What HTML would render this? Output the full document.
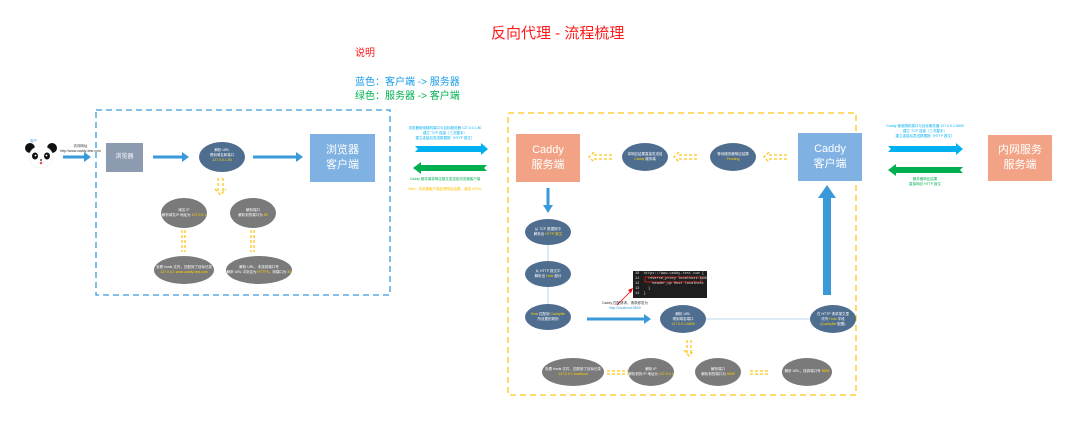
<!DOCTYPE html>
<html><head><meta charset="utf-8"><style>
body{margin:0;width:1080px;height:430px;background:#fff;position:relative;overflow:hidden;font-family:"Liberation Sans","Noto Sans CJK SC",sans-serif}
.t{position:absolute;white-space:nowrap}
.c{position:absolute;text-align:center;font-size:3.5px;line-height:5px;color:#fff;white-space:nowrap}
.box{position:absolute;color:#fff;text-align:center;display:flex;align-items:center;justify-content:center;font-size:11px;line-height:15px}
.y{color:#ffd200}
.code{position:absolute;font-family:"Liberation Mono",monospace;font-size:3.6px;line-height:5px;color:#ddd;white-space:pre}
</style></head><body>
<div class="t" style="left:491px;top:22px;font-size:15px;color:#ff1a1a">反向代理 - 流程梳理</div>
<div class="t" style="left:355px;top:44px;font-size:10px;color:#ff1a1a">说明</div>
<div class="t" style="left:355px;top:73px;font-size:10px;color:#1a9be8">蓝色：客户端 -&gt; 服务器</div>
<div class="t" style="left:355px;top:87px;font-size:10px;color:#00b050">绿色：服务器 -&gt; 客户端</div>

<svg width="1080" height="430" style="position:absolute;left:0;top:0">
<rect x="96" y="110" width="294" height="185" fill="none" stroke="#3a9ad9" stroke-width="1.3" stroke-dasharray="6,4"/>
<rect x="508" y="113" width="348" height="282" fill="none" stroke="#ffc61a" stroke-width="1.3" stroke-dasharray="6,4"/>
<!-- panda -->
<circle cx="30" cy="148" r="5" fill="#111"/><circle cx="52" cy="148" r="5" fill="#111"/>
<ellipse cx="41" cy="157" rx="12" ry="11" fill="#fff" stroke="#eee" stroke-width="0.6"/>
<ellipse cx="35" cy="156" rx="3" ry="3.5" fill="#111"/><ellipse cx="47" cy="156" rx="3" ry="3.5" fill="#111"/>
<circle cx="35.5" cy="155.5" r="0.9" fill="#fff"/><circle cx="46.5" cy="155.5" r="0.9" fill="#fff"/>
<circle cx="41" cy="160" r="0.9" fill="#111"/>
<circle cx="41" cy="163" r="1.3" fill="#d55"/>
<g stroke="#3a9ad9" stroke-width="3" fill="none">
<line x1="63" y1="157" x2="84" y2="157"/><line x1="153" y1="157" x2="182" y2="157"/><line x1="253" y1="157" x2="296" y2="157"/>
<line x1="548" y1="188" x2="548" y2="206"/><line x1="587" y1="319" x2="644" y2="319"/>
</g>
<g fill="#3a9ad9">
<path d="M84,152 L91,157 L84,162z"/><path d="M182,152 L189,157 L182,162z"/><path d="M296,152 L303,157 L296,162z"/>
<path d="M543,205 L548,213 L553,205z"/><path d="M644,314 L651,319 L644,324z"/>
<rect x="823" y="198" width="8" height="97"/><path d="M818,198 L827,185 L836,198z"/>
</g>
<path d="M415,146 L481,146 L481,143 L488,149 L481,155 L481,152 L415,152 L418,149z" fill="#00b0f0"/>
<path d="M487,165 L421,165 L421,162 L413,168 L421,174 L421,171 L487,171 L484,168z" fill="#00b050"/>
<path d="M888,146 L956,146 L956,143 L963,149 L956,155 L956,152 L888,152 L891,149z" fill="#00b0f0"/>
<path d="M963,167 L896,167 L896,164 L888,170 L896,176 L896,173 L963,173 L960,170z" fill="#00b050"/>
<g stroke="#ffc61a" stroke-width="1.3" fill="none" stroke-dasharray="3,2">
<path d="M218,178 L218,192 M223,178 L223,192 M215,189 L220.5,195 L226,189"/>
<path d="M182,230 L182,252 M185,230 L185,252"/><path d="M251,230 L251,252 M254,230 L254,252"/>
<path d="M612,155 L594,155 M612,159 L594,159 M594,152 L589,157 L594,162"/>
<path d="M697,155 L679,155 M697,159 L679,159 M679,152 L674,157 L679,162"/>
<path d="M787,155 L769,155 M787,159 L769,159 M769,152 L764,157 L769,162"/>
<path d="M687,340 L687,353 M691,340 L691,353 M684,350 L689,356 L694,350"/>
<path d="M607,371 L628,371 M607,374 L628,374"/><path d="M750,371 L770,371 M750,374 L770,374"/>
</g>
<line x1="548" y1="245" x2="548" y2="304" stroke="#a9c7e2" stroke-width="0.8"/>
<line x1="706" y1="319" x2="810" y2="319" stroke="#a9c7e2" stroke-width="0.8"/>
<g fill="#4f6d8f">
<ellipse cx="222" cy="157" rx="23" ry="15"/>
<ellipse cx="645" cy="157" rx="23" ry="14"/><ellipse cx="733" cy="157" rx="23" ry="14"/>
<ellipse cx="548" cy="232" rx="23" ry="13"/><ellipse cx="548" cy="274" rx="23" ry="13"/><ellipse cx="548" cy="317" rx="23" ry="13"/>
<ellipse cx="683" cy="319" rx="23" ry="14"/><ellipse cx="833" cy="319" rx="23" ry="14"/>
</g>
<g fill="#7a7a7a">
<ellipse cx="184" cy="213" rx="23" ry="15"/><ellipse cx="253" cy="213" rx="23" ry="15"/>
<ellipse cx="184" cy="270" rx="30" ry="14"/><ellipse cx="259" cy="270" rx="33" ry="14"/>
<ellipse cx="573" cy="372" rx="31" ry="14"/><ellipse cx="651" cy="372" rx="23" ry="14"/>
<ellipse cx="718" cy="372" rx="23" ry="14"/><ellipse cx="807" cy="372" rx="25" ry="14"/>
</g>
<rect x="633" y="271" width="74" height="27" fill="#1e1e1e"/>
<rect x="645" y="277" width="56" height="5" fill="none" stroke="#d22" stroke-width="0.8"/>
<line x1="617" y1="305" x2="632" y2="290" stroke="#e00" stroke-width="0.8"/>
<path d="M633,288 L631,293 L628,290z" fill="#e00"/>
</svg>
<div class="code" style="left:635px;top:272px">10  https://www.caddy-test.com {
11    reverse_proxy localhost:5609 {
12      header_up Host localhost
13    }
14  }</div>

<div class="c" style="left:30px;top:139px;color:#3a9ad9">用户</div>
<div class="c" style="left:60px;top:144px;color:#333">访问网址<br>http://www.caddy-test.com</div>
<div class="box" style="left:106px;top:143px;width:37px;height:29px;background:#8c9bb0;font-size:6px">浏览器</div>
<div class="box" style="left:310px;top:134px;width:65px;height:48px;background:#7fb1e3">浏览器<br>客户端</div>
<div class="box" style="left:516px;top:134px;width:64px;height:48px;background:#f2a385">Caddy<br>服务端</div>
<div class="box" style="left:798px;top:133px;width:64px;height:48px;background:#7fb1e3">Caddy<br>客户端</div>
<div class="box" style="left:988px;top:135px;width:64px;height:46px;background:#f2a385">内网服务<br>服务端</div>

<div class="c" style="left:199px;top:148px;width:46px">解析 URL<br>得到域名和端口<br><span class="y">127.0.0.1:80</span></div>
<div class="c" style="left:161px;top:208px;width:46px">域名 IP<br>解析域名IP 地址为 <span class="y">127.0.0.1</span></div>
<div class="c" style="left:230px;top:208px;width:46px">解析端口<br>解析到的端口为 <span class="y">80</span></div>
<div class="c" style="left:154px;top:265px;width:60px">查看 hosts 文件，匹配到了目标记录<br><span class="y">127.0.0.1 www.caddy-test.com</span></div>
<div class="c" style="left:226px;top:265px;width:66px">解析 URL，未找到端口号<br>解析 URL 中协议为 <span class="y">HTTPS</span>，则端口为 <span class="y">80</span></div>

<div class="c" style="left:405px;top:126px;width:80px;color:#00b0f0">浏览器使用随机端口与目标服务器 127.0.0.1:80<br>建立 TCP 连接（三次握手）<br>建立连接后发送数据报（HTTP 报文）</div>
<div class="c" style="left:405px;top:177px;width:80px;color:#00b050">Caddy 服务端将响应报文发送给浏览器客户端</div>
<div class="c" style="left:405px;top:187px;width:80px;color:#ffc000">html：浏览器客户端处理响应结果，渲染 HTML</div>

<div class="c" style="left:622px;top:152px;width:46px">将响应结果直接发送给<br><span class="y">Caddy</span> 服务端</div>
<div class="c" style="left:710px;top:152px;width:46px">等待服务器响应结果<br><span class="y">Pending</span></div>
<div class="c" style="left:525px;top:227px;width:46px">从 TCP 数据报中<br>解析出 <span class="y">HTTP 报文</span></div>
<div class="c" style="left:525px;top:269px;width:46px">从 HTTP 报文中<br>解析出 <span class="y">Host</span> 部分</div>
<div class="c" style="left:525px;top:312px;width:46px"><span class="y">Host</span> 匹配到 <span class="y">Caddyfile</span><br>所设置的规则</div>
<div class="c" style="left:660px;top:312px;width:46px">解析 URL<br>得到域名端口<br><span class="y">127.0.0.1:5609</span></div>
<div class="c" style="left:810px;top:312px;width:46px">在 HTTP 请求报文里<br>改写 <span class="y">Host</span> 字段<br>(<span class="y">Caddyfile</span> 配置)</div>
<div class="c" style="left:595px;top:301px;width:60px;color:#333">Caddy 匹配请求，请求即发为<br><span style="color:#3a9ad9">http://localhost:5609</span></div>
<div class="c" style="left:543px;top:367px;width:60px">查看 hosts 文件，匹配到了目标记录<br><span class="y">127.0.0.1 localhost</span></div>
<div class="c" style="left:628px;top:367px;width:46px">解析 IP<br>解析到的 IP 地址为 <span class="y">127.0.0.1</span></div>
<div class="c" style="left:695px;top:367px;width:46px">解析端口<br>解析到的端口为 <span class="y">5609</span></div>
<div class="c" style="left:782px;top:369px;width:50px">解析 URL，找到端口号 <span class="y">5609</span></div>

<div class="c" style="left:880px;top:124px;width:90px;color:#00b0f0">Caddy 使用随机端口与目标服务器 127.0.0.1:5609<br>建立 TCP 连接（三次握手）<br>建立连接后发送数据报（HTTP 报文）</div>
<div class="c" style="left:880px;top:177px;width:90px;color:#00b050">服务器响应结果<br>直接响应 HTTP 报文</div>
</body></html>
